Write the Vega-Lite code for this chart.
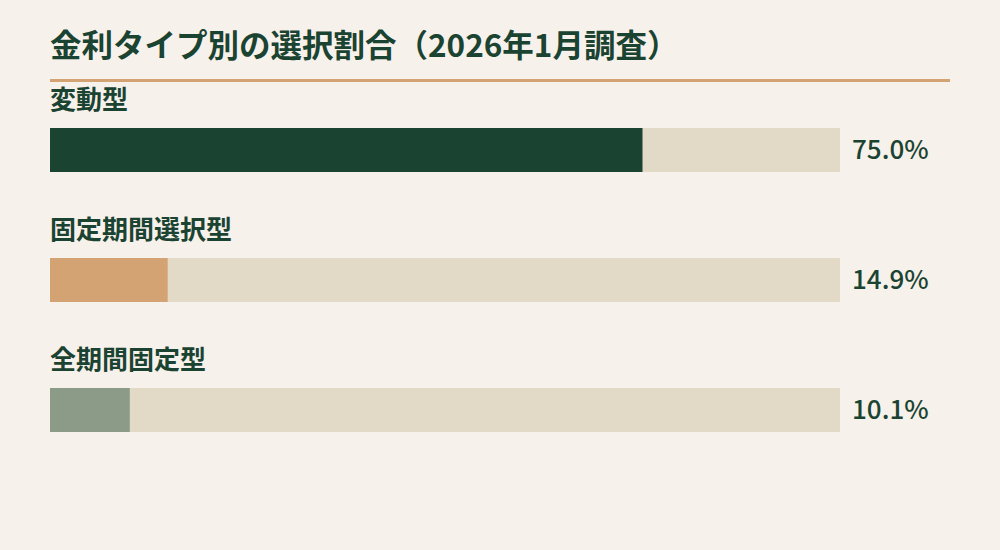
{
  "$schema": "https://vega.github.io/schema/vega-lite/v6.json",
  "width": 900,
  "height": 470,
  "autosize": {"type": "none"},
  "padding": {"left": 50, "top": 80, "right": 50, "bottom": 0},
  "background": "#f6f1ea",
  "config": {"view": {"stroke": null}, "font": "Noto Sans CJK JP"},
  "title": {
    "text": "金利タイプ別の選択割合（2026年1月調査）",
    "anchor": "start",
    "frame": "group",
    "fontSize": 31.5,
    "fontWeight": "bold",
    "color": "#1b4332",
    "font": "Noto Sans CJK JP",
    "offset": 15
  },
  "data": {
    "values": [
      {"type": "変動型", "share": 0.750},
      {"type": "固定期間選択型", "share": 0.149},
      {"type": "全期間固定型", "share": 0.101}
    ]
  },
  "encoding": {
    "y": {
      "field": "type",
      "type": "nominal",
      "sort": null,
      "scale": {"range": [48, 352], "paddingInner": 0.66154, "paddingOuter": 0},
      "axis": null
    }
  },
  "layer": [
    {
      "mark": {"type": "bar", "color": "#e3d9c7"},
      "encoding": {
        "x": {"datum": 0, "type": "quantitative", "scale": {"domain": [0, 1], "range": [0, 790]}, "axis": null},
        "x2": {"datum": 1}
      }
    },
    {
      "mark": {"type": "bar"},
      "encoding": {
        "x": {"field": "share", "type": "quantitative"},
        "x2": {"datum": 0},
        "color": {
          "field": "type",
          "type": "nominal",
          "scale": {"domain": ["変動型", "固定期間選択型", "全期間固定型"], "range": ["#1b4332", "#d4a373", "#8c9a88"]},
          "legend": null
        }
      }
    },
    {
      "mark": {"type": "text", "align": "left", "baseline": "middle", "dy": -49, "fontSize": 26, "fontWeight": "bold", "color": "#1b4332"},
      "encoding": {
        "x": {"datum": 0, "type": "quantitative"},
        "text": {"field": "type"}
      }
    },
    {
      "mark": {"type": "text", "align": "left", "baseline": "middle", "dx": 12, "dy": 1, "fontSize": 26, "fontWeight": 500, "color": "#1b4332"},
      "encoding": {
        "x": {"datum": 1, "type": "quantitative"},
        "text": {"field": "share", "type": "quantitative", "format": ".1%"}
      }
    },
    {
      "data": {"values": [{"type": "変動型"}]},
      "mark": {"type": "rule", "color": "#d4a373", "strokeWidth": 3},
      "encoding": {
        "y": {"datum": "変動型", "bandPosition": -1.08}
      }
    }
  ]
}
